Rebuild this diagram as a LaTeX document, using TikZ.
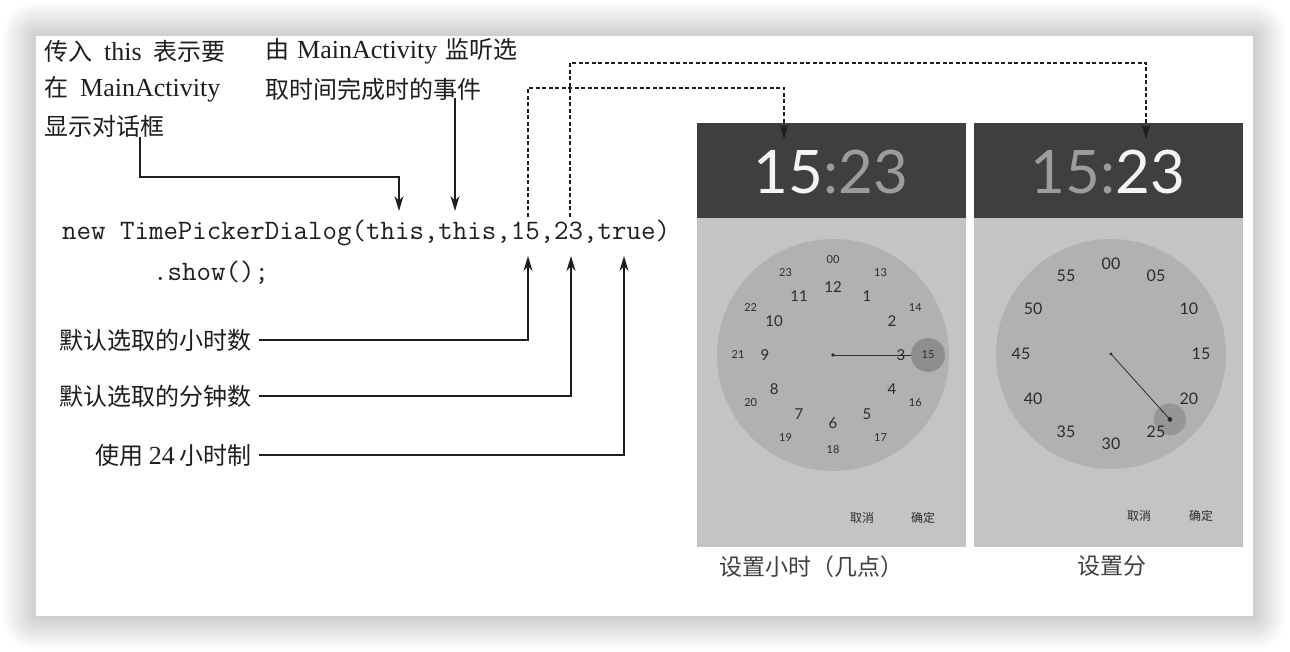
\documentclass[tikz,border=0pt]{standalone}
\usepackage{fontspec}
\setmainfont{Liberation Serif}
\newfontfamily\cjk{Noto Sans CJK SC}
\newfontfamily\numfont{Lato}
\usetikzlibrary{arrows.meta,calc}

% Latin words inside the Chinese notes
\newcommand\latw[1]{{\rmfamily\fontsize{26}{28}\selectfont #1}}

\definecolor{ink}{HTML}{1E1E1E}
\definecolor{scrhead}{HTML}{3F3F3F}
\definecolor{scrbody}{HTML}{C4C4C4}
\definecolor{dial}{HTML}{B1B1B1}
\definecolor{dialsel}{HTML}{8E8E8E}
\definecolor{timeon}{HTML}{F4F4F4}
\definecolor{timeoff}{HTML}{9C9C9C}
\definecolor{numink}{HTML}{2C2C2C}

\tikzset{
  note/.style={inner sep=0pt, anchor=west, text=ink, font=\cjk\fontsize{24}{28}\selectfont},
  codest/.style={inner sep=0pt, anchor=west, text=ink, font=\ttfamily\fontsize{28.1}{30}\selectfont},
  arr/.style={draw=ink, line width=1.3pt, -{Stealth[length=15pt,width=9pt]}},
  dsh/.style={draw=ink, line width=1.2pt, dash pattern=on 4pt off 2.5pt, -{Stealth[length=15pt,width=9pt]}},
  timest/.style={inner sep=0pt, font=\numfont\fontsize{60}{60}\selectfont},
  hrout/.style={inner sep=0pt, text=numink, font=\numfont\fontsize{11}{12}\selectfont},
  hrin/.style={inner sep=0pt, text=numink, font=\numfont\fontsize{15}{16}\selectfont},
  mnst/.style={inner sep=0pt, text=numink, font=\numfont\fontsize{16}{18}\selectfont},
  btn/.style={inner sep=0pt, text=numink, font=\cjk\fontsize{12}{14}\selectfont},
  captxt/.style={inner sep=0pt, text=ink!85, font=\cjk\fontsize{23}{26}\selectfont},
  hand/.style={draw=numink, line width=0.8pt},
}

\begin{document}
\begin{tikzpicture}[x=1pt, y=-1pt]
\useasboundingbox (0,0) rectangle (1290,652);
\fill[white] (0,0) rectangle (1290,652);

% soft shadow round the page
\foreach \k in {1,...,24}
  \fill[black, opacity=0.0095, rounded corners=\k*1.4pt]
    (36-\k*1.4, 36-\k*1.4) rectangle (1253+\k*1.4, 616+\k*1.4);
\fill[white] (36,36) rectangle (1253,616);

% ---------- notes above the code ----------
\node[note] (t1a) at (44,51) {传入\hspace{12pt}\latw{this}\hspace{12pt}表示要};
\node[note] (t1b) at (44,89) {在\hspace{12pt}\latw{MainActivity}};
\node[note] (t1c) at (44,126) {显示对话框};
\node[note] (t2a) at (265,51) {由\hspace{8pt}\latw{MainActivity}\hspace{8pt}监听选};
\node[note] (t2b) at (265,89) {取时间完成时的事件};

% ---------- the code ----------
\node[codest] (code) at (62,233) {new TimePickerDialog(this,this,15,23,true)};
\node[codest] (show) at (153,273) {.show();};

% ---------- notes below the code ----------
\node[note, anchor=east] (lab1) at (252,340) {默认选取的小时数};
\node[note, anchor=east] (lab2) at (252,396) {默认选取的分钟数};
\node[note, anchor=east] (lab3) at (252,455) {使用\hspace{5pt}\latw{24}\hspace{5pt}小时制};

% ---------- phone screen: hours ----------
\fill[scrbody] (697,218) rectangle (966,547);
\fill[scrhead] (697,123) rectangle (966,218);
\node[timest] (timeA) at (831,172) {\textcolor{timeon}{15}\textcolor{timeoff}{:23}};
\fill[dial] (833,355) circle[radius=116pt];
\coordinate (ctrA) at (833,355);
\coordinate (selA) at (928,355);
\draw[hand] (ctrA) -- (selA);
\fill[dialsel] (selA) circle[radius=17pt];
\fill[numink] (ctrA) circle[radius=1.8pt];
\foreach \lab [count=\i from 0] in {00,13,14,15,16,17,18,19,20,21,22,23}
  \node[hrout] (ho\i) at ({833+95*sin(\i*30)},{355-95*cos(\i*30)}) {\lab};
\foreach \lab [count=\i from 0] in {12,1,2,3,4,5,6,7,8,9,10,11}
  \node[hrin] (hi\i) at ({833+68*sin(\i*30)},{355-68*cos(\i*30)}) {\lab};
\node[btn] (cancelA) at (862,518) {取消};
\node[btn] (okA) at (923,518) {确定};
\node[captxt] (capA) at (811,567) {设置小时（几点）};

% ---------- phone screen: minutes ----------
\fill[scrbody] (974,218) rectangle (1243,547);
\fill[scrhead] (974,123) rectangle (1243,218);
\node[timest] (timeB) at (1108,172) {\textcolor{timeoff}{15:}\textcolor{timeon}{23}};
\fill[dial] (1111,354) circle[radius=115pt];
\coordinate (ctrB) at (1111,354);
\coordinate (selB) at ({1111+88*sin(138)},{354-88*cos(138)});
\fill[dialsel, opacity=0.75] (selB) circle[radius=16pt];
\foreach \lab [count=\i from 0] in {00,05,10,15,20,25,30,35,40,45,50,55}
  \node[mnst] (mn\i) at ({1111+90*sin(\i*30)},{354-90*cos(\i*30)}) {\lab};
\draw[hand] (ctrB) -- (selB);
\fill[numink] (ctrB) circle[radius=1.6pt];
\fill[numink] (selB) circle[radius=2.4pt];
\node[btn] (cancelB) at (1139,516) {取消};
\node[btn] (okB) at (1201,516) {确定};
\node[captxt] (capB) at (1112,566) {设置分};

% ---------- connector ends ----------
\coordinate (tThisA) at (399,211);
\coordinate (tThisB) at (455,211);
\coordinate (t15) at (528,256);
\coordinate (t23) at (571,256);
\coordinate (tTrue) at (624,256);
\coordinate (d15) at (528,217);
\coordinate (d23) at (570,217);
\coordinate (k1) at (140,177);
\coordinate (jA) at (784,88);
\coordinate (jB) at (1146,63);
\coordinate (hA) at (784,139);
\coordinate (hB) at (1146,139);

% ---------- connectors ----------
\draw[arr] (t1c.south -| k1) -- (k1) -| (tThisA);
\draw[arr] ([yshift=2pt]t2b.south -| tThisB) -- (tThisB);
\draw[arr] ([xshift=7pt]lab1.east) -| (t15);
\draw[arr] ([xshift=7pt]lab2.east) -| (t23);
\draw[arr] ([xshift=7pt]lab3.east) -| (tTrue);
\draw[dsh] (d15) |- (jA) -- (hA);
\draw[dsh] (d23) |- (jB) -- (hB);
\end{tikzpicture}
\end{document}
